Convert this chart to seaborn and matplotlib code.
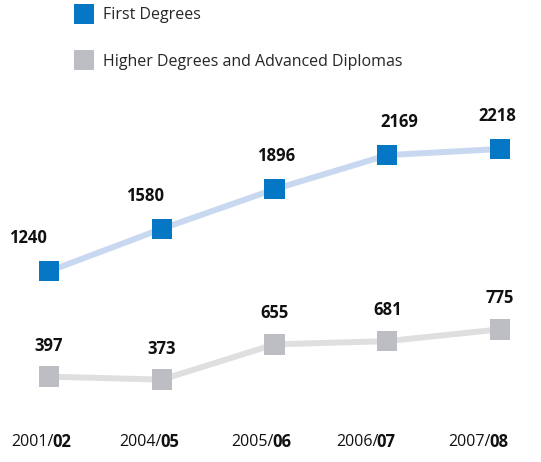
import matplotlib
matplotlib.use("Agg")
import matplotlib.pyplot as plt
import pandas as pd
import seaborn as sns

## Data
years = ["2001/", "2004/", "2005/", "2006/", "2007/"]
year_ends = ["02", "05", "06", "07", "08"]
first_degrees = [1240, 1580, 1896, 2169, 2218]
higher_degrees = [397, 373, 655, 681, 775]
series_names = ["First Degrees", "Higher Degrees and Advanced Diplomas"]

# label nudges (pixels) for the blue series, so the numbers clear the line
first_dx = [-21, -17, 2, 12, -3]

df = pd.DataFrame({
    "x": list(range(len(years))) * 2,
    "value": first_degrees + higher_degrees,
    "series": [series_names[0]] * len(years) + [series_names[1]] * len(years),
})

sns.set_style("white")
plt.rcParams["font.family"] = ["Open Sans", "DejaVu Sans"]

marker_colors = {series_names[0]: "#0577C4", series_names[1]: "#BDBEC3"}
line_colors = {series_names[0]: "#C8D8F0", series_names[1]: "#DFDFDF"}

fig = plt.figure(figsize=(5.41, 4.62), dpi=100)
ax = fig.add_axes([0, 0, 1, 1])

## Lines + markers
sns.lineplot(data=df, x="x", y="value", hue="series", palette=line_colors,
             linewidth=4.3, legend=False, ax=ax, zorder=1)
sns.scatterplot(data=df, x="x", y="value", hue="series", palette=marker_colors,
                marker="s", s=215, linewidth=0, ax=ax, zorder=2)

# pixel-ish layout
ax.set_xlim(-0.4346, 4.3636)
ax.set_ylim(-286, 3410)
ax.axis("off")

px = 0.72  # one pixel in points
for i, v in enumerate(first_degrees):
    ax.annotate(str(v), (i, v), xytext=(first_dx[i] * px, 33 * px),
                textcoords="offset points", ha="center", va="center",
                fontsize=12, fontweight="bold", color="#111111")
for i, v in enumerate(higher_degrees):
    ax.annotate(str(v), (i, v), xytext=(0, 31 * px),
                textcoords="offset points", ha="center", va="center",
                fontsize=12, fontweight="bold", color="#111111")

## Year labels with bold endings
split_dx = [5, 0, -1, -9, -9]
trans = ax.get_xaxis_transform()
for i, (y0, y1) in enumerate(zip(years, year_ends)):
    ax.annotate(y0, (i, 0), xycoords=trans, xytext=(split_dx[i] * px, 20 * px),
                textcoords="offset points", ha="right", va="center",
                fontsize=11.5, color="#111111")
    ax.annotate(y1, (i, 0), xycoords=trans, xytext=((split_dx[i] - 1.5) * px, 20 * px),
                textcoords="offset points", ha="left", va="center",
                fontsize=12, fontweight="bold", color="#111111")

## Legend
ax.legend_.remove()
handles, labels = ax.get_legend_handles_labels()
fig.legend(handles, labels, loc="upper left", bbox_to_anchor=(65 / 541, 1 - 4 / 462),
           frameon=False, fontsize=11.5, labelspacing=1.9, handletextpad=0.15,
           borderpad=0.2, borderaxespad=0)

plt.savefig("out.png", dpi=100)
